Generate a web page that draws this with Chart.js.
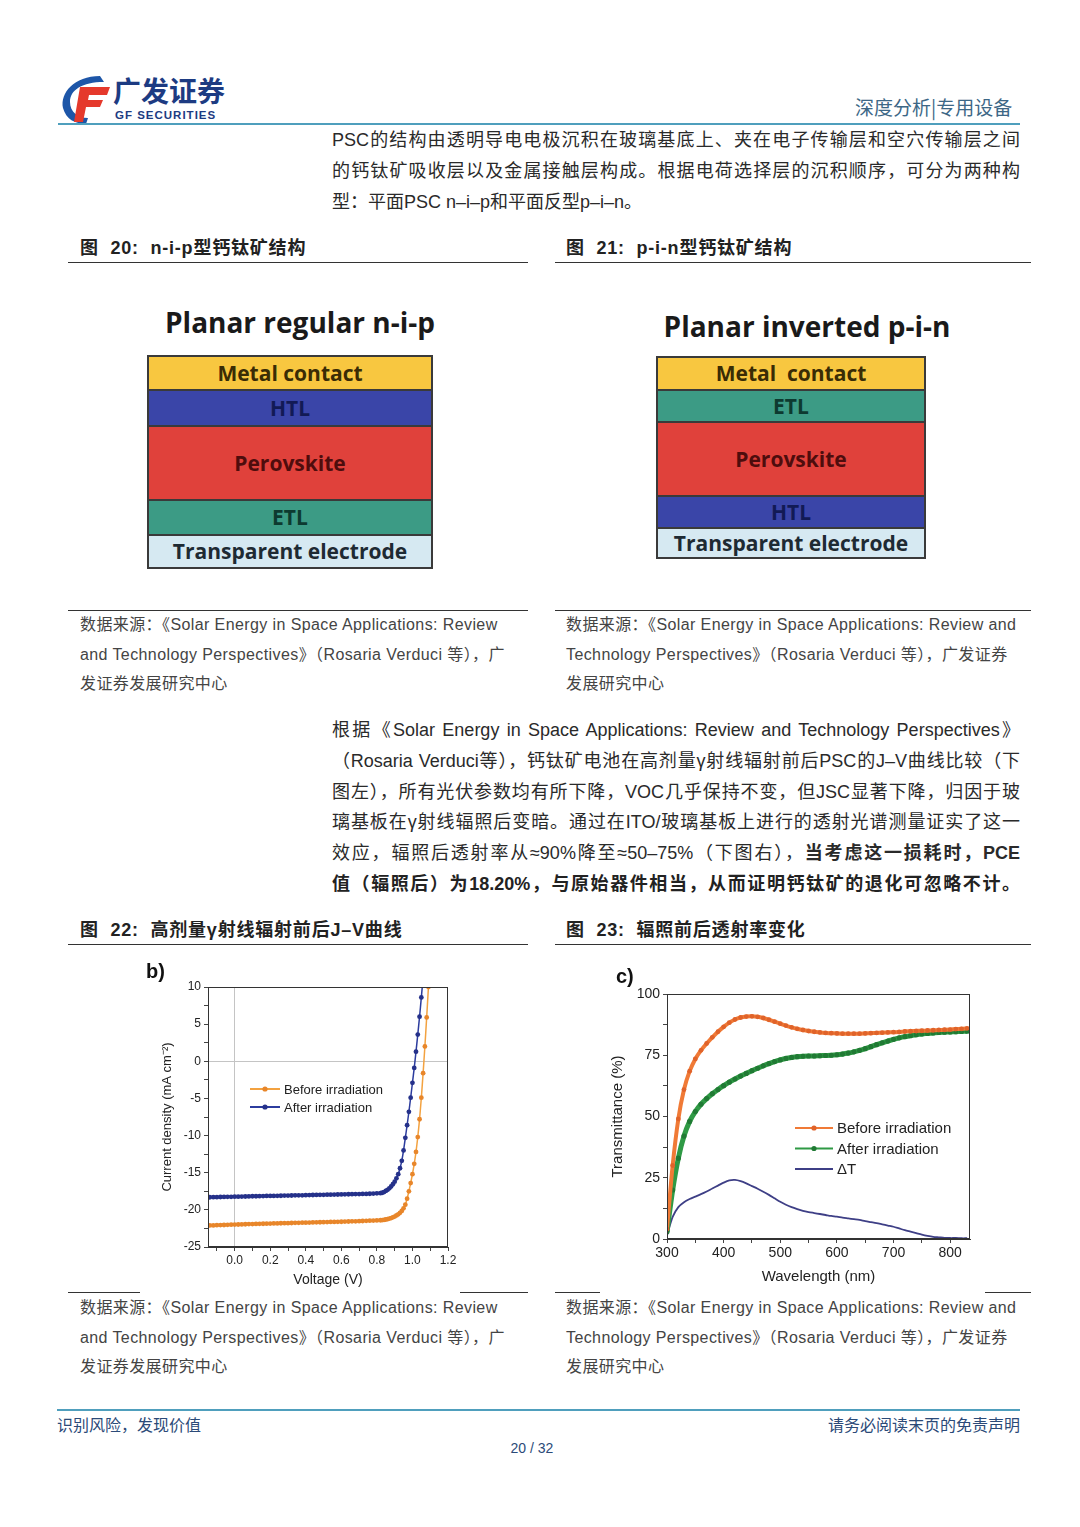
<!DOCTYPE html>
<html lang="zh-CN">
<head>
<meta charset="utf-8">
<title>广发证券 深度分析 p20</title>
<script src="https://cdn.jsdelivr.net/npm/chart.js@4.4.1/dist/chart.umd.min.js"></script>
<style>
  html, body { margin:0; padding:0; background:#fff; }
  #page { position:relative; width:1080px; height:1527px; overflow:hidden;
          font-family:"Liberation Sans Narrow","Liberation Sans","Noto Sans CJK SC",sans-serif; color:#2a2a2a; }
  .abs { position:absolute; }
  .txt { position:absolute; left:332px; width:688px; font-size:18px; line-height:24px; }
  .just { text-align:justify; text-align-last:justify; }
  .cap { position:absolute; font-size:18px; line-height:24px; color:#222; font-weight:bold; letter-spacing:0.8px;
         font-family:"Liberation Sans","Noto Sans CJK SC",sans-serif; }
  .src { position:absolute; font-size:16px; line-height:20px; color:#444; letter-spacing:0.4px; }
  .rule { position:absolute; height:1px; background:#333; }
  .blue-rule { position:absolute; height:2px; background:#4f9fbd; }
  .dtitle { position:absolute; font-family:"Open Sans","Liberation Sans",sans-serif; font-weight:700;
            font-size:28px; line-height:34px; color:#1a1a1a; text-align:center; }
  .stack { position:absolute; background:#3a3a3a; }
  .layer { position:absolute; left:2px; text-align:center; font-family:"Open Sans","Liberation Sans",sans-serif;
           font-weight:700; font-size:21px; }
  .chartbox { position:absolute; background:#fff; }
  .plabel { position:absolute; font-family:"Liberation Sans",sans-serif; font-weight:bold; font-size:20px; color:#111; }
</style>
</head>
<body>
<div id="page">

  <!-- header -->
  <svg class="abs" style="left:58px;top:74px" width="56" height="52" viewBox="0 0 56 52">
    <path d="M42 2 C 16 2, 2 19, 5 34 C 8 45, 17 50, 28 50 L 30 44 C 20 44, 12 38, 12 28 C 12 16, 24 8, 46 8 Z" fill="#1d56a8"/>
    <path d="M22 13 L52 13 L49 21 L31 21 L30 26 L45 26 L42 33 L28 33 L25 48 L16 48 Z" fill="#e5392c"/>
  </svg>
  <div class="abs" style="left:113px;top:74px;font-size:28px;line-height:32px;font-weight:bold;color:#1d3b82;font-family:'Noto Sans CJK SC',sans-serif">广发证券</div>
  <div class="abs" style="left:115px;top:109px;font-size:11.5px;line-height:13px;font-weight:bold;color:#1d3b82;letter-spacing:1px;font-family:'Liberation Sans Narrow','Liberation Sans',sans-serif">GF SECURITIES</div>
  <div class="abs" style="left:855px;top:95px;font-size:19px;line-height:24px;color:#3d6786;font-family:'Noto Sans CJK SC',sans-serif">深度分析|专用设备</div>
  <div class="blue-rule" style="left:58px;top:123px;width:962px"></div>

  <!-- paragraph 1 -->
  <div class="txt just" style="top:128px">PSC的结构由透明导电电极沉积在玻璃基底上、夹在电子传输层和空穴传输层之间</div>
  <div class="txt just" style="top:159px">的钙钛矿吸收层以及金属接触层构成。根据电荷选择层的沉积顺序，可分为两种构</div>
  <div class="txt" style="top:190px">型：平面PSC n–i–p和平面反型p–i–n。</div>

  <!-- figure 20 / 21 captions -->
  <div class="cap" style="left:80px;top:236px">图&nbsp; 20:&nbsp; n-i-p型钙钛矿结构</div>
  <div class="cap" style="left:566px;top:236px">图&nbsp; 21:&nbsp; p-i-n型钙钛矿结构</div>
  <div class="rule" style="left:68px;top:262px;width:460px"></div>
  <div class="rule" style="left:555px;top:262px;width:476px"></div>

  <!-- n-i-p stack -->
  <div class="dtitle" style="left:140px;top:305px;width:320px">Planar regular n-i-p</div>
  <div class="stack" style="left:147px;top:355px;width:286px;height:214px">
    <div class="layer" style="top:2px;width:282px;height:32px;line-height:32px;background:#f8c740;color:#3a2c05">Metal contact</div>
    <div class="layer" style="top:36px;width:282px;height:34px;line-height:34px;background:#3a45a8;color:#121a55">HTL</div>
    <div class="layer" style="top:72px;width:282px;height:72px;line-height:72px;background:#e0413b;color:#4e0d0d">Perovskite</div>
    <div class="layer" style="top:146px;width:282px;height:33px;line-height:33px;background:#3c9b85;color:#0d3a30">ETL</div>
    <div class="layer" style="top:181px;width:282px;height:31px;line-height:31px;background:#d6e9f2;color:#1e2a33">Transparent electrode</div>
  </div>

  <!-- p-i-n stack -->
  <div class="dtitle" style="left:647px;top:309px;width:320px">Planar inverted p-i-n</div>
  <div class="stack" style="left:656px;top:356px;width:270px;height:203px">
    <div class="layer" style="top:2px;width:266px;height:31px;line-height:31px;background:#f8c740;color:#3a2c05">Metal&nbsp; contact</div>
    <div class="layer" style="top:35px;width:266px;height:30px;line-height:30px;background:#3c9b85;color:#0d3a30">ETL</div>
    <div class="layer" style="top:67px;width:266px;height:72px;line-height:72px;background:#e0413b;color:#4e0d0d">Perovskite</div>
    <div class="layer" style="top:141px;width:266px;height:30px;line-height:30px;background:#3a45a8;color:#121a55">HTL</div>
    <div class="layer" style="top:173px;width:266px;height:28px;line-height:28px;background:#d6e9f2;color:#1e2a33">Transparent electrode</div>
  </div>

  <!-- sources fig 20/21 -->
  <div class="rule" style="left:68px;top:610px;width:460px"></div>
  <div class="rule" style="left:555px;top:610px;width:476px"></div>
  <div class="src" style="left:80px;top:615px">数据来源：《Solar Energy in Space Applications: Review</div>
  <div class="src" style="left:80px;top:645px">and Technology Perspectives》（Rosaria Verduci 等），广</div>
  <div class="src" style="left:80px;top:674px">发证券发展研究中心</div>
  <div class="src" style="left:566px;top:615px">数据来源：《Solar Energy in Space Applications: Review and</div>
  <div class="src" style="left:566px;top:645px">Technology Perspectives》（Rosaria Verduci 等），广发证券</div>
  <div class="src" style="left:566px;top:674px">发展研究中心</div>

  <!-- paragraph 2 -->
  <div class="txt just" style="top:718px">根据《Solar Energy in Space Applications: Review and Technology Perspectives》</div>
  <div class="txt just" style="top:749px">（Rosaria Verduci等），钙钛矿电池在高剂量γ射线辐射前后PSC的J–V曲线比较（下</div>
  <div class="txt just" style="top:780px">图左），所有光伏参数均有所下降，VOC几乎保持不变，但JSC显著下降，归因于玻</div>
  <div class="txt just" style="top:810px">璃基板在γ射线辐照后变暗。通过在ITO/玻璃基板上进行的透射光谱测量证实了这一</div>
  <div class="txt just" style="top:841px">效应，辐照后透射率从≈90%降至≈50–75%（下图右），<b>当考虑这一损耗时，PCE</b></div>
  <div class="txt just" style="top:872px;font-weight:bold;color:#222">值（辐照后）为18.20%，与原始器件相当，从而证明钙钛矿的退化可忽略不计。</div>

  <!-- figure 22 / 23 captions -->
  <div class="cap" style="left:80px;top:918px">图&nbsp; 22:&nbsp; 高剂量γ射线辐射前后J–V曲线</div>
  <div class="cap" style="left:566px;top:918px">图&nbsp; 23:&nbsp; 辐照前后透射率变化</div>
  <div class="rule" style="left:68px;top:944px;width:460px"></div>
  <div class="rule" style="left:555px;top:944px;width:476px"></div>

  <div class="chartbox" style="left:140px;top:960px;width:320px;height:335px"><canvas id="jvChart"></canvas></div>
  <div class="plabel" style="left:146px;top:960px">b)</div>
  <div class="chartbox" style="left:600px;top:960px;width:385px;height:330px"><canvas id="trChart"></canvas></div>
  <div class="plabel" style="left:616px;top:965px">c)</div>

  <!-- sources fig 22/23 -->
  <div class="rule" style="left:68px;top:1292px;width:72px"></div>
  <div class="rule" style="left:460px;top:1292px;width:68px"></div>
  <div class="rule" style="left:555px;top:1292px;width:45px"></div>
  <div class="rule" style="left:985px;top:1292px;width:46px"></div>
  <div class="src" style="left:80px;top:1298px">数据来源：《Solar Energy in Space Applications: Review</div>
  <div class="src" style="left:80px;top:1328px">and Technology Perspectives》（Rosaria Verduci 等），广</div>
  <div class="src" style="left:80px;top:1357px">发证券发展研究中心</div>
  <div class="src" style="left:566px;top:1298px">数据来源：《Solar Energy in Space Applications: Review and</div>
  <div class="src" style="left:566px;top:1328px">Technology Perspectives》（Rosaria Verduci 等），广发证券</div>
  <div class="src" style="left:566px;top:1357px">发展研究中心</div>

  <!-- footer -->
  <div class="blue-rule" style="left:57px;top:1409px;width:963px"></div>
  <div class="abs" style="left:57px;top:1414px;font-size:16px;line-height:20px;color:#2b4a78;font-family:'Noto Sans CJK SC',sans-serif">识别风险，发现价值</div>
  <div class="abs" style="left:820px;top:1414px;width:200px;text-align:right;font-size:16px;line-height:20px;color:#2b4a78;font-family:'Noto Sans CJK SC',sans-serif">请务必阅读末页的免责声明</div>
  <div class="abs" style="left:482px;top:1439px;width:100px;text-align:center;font-size:14px;line-height:18px;color:#2b4a78">20 / 32</div>
</div>

<script>
// ---- fig 22: J-V curves ----
const jvVoltage = [
  -0.14,-0.12,-0.10,-0.08,-0.06,-0.04,-0.02,0.00,0.02,0.04,
  0.06,0.08,0.10,0.12,0.14,0.16,0.18,0.20,0.22,0.24,
  0.26,0.28,0.30,0.32,0.34,0.36,0.38,0.40,0.42,0.44,
  0.46,0.48,0.50,0.52,0.54,0.56,0.58,0.60,0.62,0.64,
  0.66,0.68,0.70,0.72,0.74,0.76,0.78,0.80,0.82,
  0.83,0.84,0.85,0.86,0.87,0.88,0.89,0.90,0.91,0.92,
  0.93,0.94,0.95,0.96,0.97,0.98,0.99,1.00,1.01,1.02,
  1.03,1.04,1.05,1.06,1.07,1.08,1.09,1.10
];
const jvBefore = [
  -22.10,-22.09,-22.06,-22.05,-22.04,-22.02,-22.00,-21.98,-21.97,-21.96,
  -21.94,-21.92,-21.91,-21.90,-21.88,-21.87,-21.86,-21.85,-21.83,-21.82,
  -21.80,-21.79,-21.79,-21.77,-21.75,-21.74,-21.73,-21.72,-21.71,-21.69,
  -21.68,-21.67,-21.66,-21.65,-21.63,-21.62,-21.61,-21.60,-21.58,-21.57,
  -21.55,-21.54,-21.52,-21.50,-21.48,-21.46,-21.44,-21.42,-21.40,
  -21.38,-21.35,-21.30,-21.25,-21.18,-21.10,-21.00,-20.90,-20.75,-20.60,
  -20.40,-20.15,-19.80,-19.30,-18.50,-17.50,-16.40,-15.20,-13.80,-12.20,
  -10.20,-7.80,-4.90,-1.60,2.00,5.90,10.00,14.00
];
const jvAfter = [
  -18.30,-18.29,-18.29,-18.27,-18.26,-18.25,-18.25,-18.23,-18.22,-18.21,
  -18.20,-18.19,-18.17,-18.17,-18.16,-18.15,-18.13,-18.12,-18.12,-18.11,
  -18.10,-18.08,-18.08,-18.07,-18.05,-18.04,-18.04,-18.03,-18.01,-18.00,
  -17.99,-17.98,-17.98,-17.96,-17.95,-17.94,-17.93,-17.92,-17.91,-17.90,
  -17.89,-17.88,-17.87,-17.86,-17.85,-17.83,-17.81,-17.78,-17.75,
  -17.70,-17.60,-17.45,-17.30,-17.10,-16.85,-16.55,-16.20,-15.75,-15.20,
  -14.40,-13.40,-12.00,-10.30,-8.60,-6.80,-4.90,-2.90,-0.90,1.30,
  3.60,6.00,8.60,11.30,null,null,null,null
];
// tick positions (labelled every other one)
const jvXTicks = [-0.1,0.0,0.1,0.2,0.3,0.4,0.5,0.6,0.7,0.8,0.9,1.0,1.1,1.2];
const jvYTicks = [-25,-22.5,-20,-17.5,-15,-12.5,-10,-7.5,-5,-2.5,0,2.5,5,7.5,10];

// ---- fig 23: transmittance ----
const wavelength = [
  300,310,320,330,340,350,360,370,380,390,
  400,410,420,430,440,450,460,470,480,490,
  500,510,520,530,540,550,560,570,580,590,
  600,610,620,630,640,650,660,670,680,690,
  700,710,720,730,740,750,760,770,780,790,
  800,810,820,830
];
const transBefore = [
  4,30,49,61,68.5,73.5,77,79.8,82.3,84.6,
  86.6,88.3,89.6,90.4,90.8,90.9,90.7,90.2,89.5,88.7,
  87.9,87.1,86.4,85.8,85.3,84.9,84.6,84.3,84.1,84.0,
  83.9,83.8,83.8,83.8,83.8,83.9,84.0,84.1,84.2,84.3,
  84.4,84.5,84.7,84.8,84.9,85.0,85.1,85.2,85.3,85.4,
  85.5,85.7,85.8,86.0
];
const transAfter = [
  3,20,33,42,48,52,55,57.3,59.3,61,
  62.6,64,65.3,66.5,67.6,68.7,69.7,70.7,71.6,72.4,
  73.1,73.7,74.1,74.4,74.6,74.7,74.7,74.8,74.9,75.0,
  75.2,75.5,75.9,76.4,77.0,77.7,78.5,79.3,80.1,80.8,
  81.5,82.1,82.6,83.0,83.4,83.7,83.9,84.1,84.3,84.4,
  84.5,84.6,84.7,84.8
];
const transDelta = [
  1.5,9,13,15,16.3,17.3,18.3,19.4,20.6,21.8,
  23.0,23.9,24.1,23.6,22.7,21.6,20.5,19.3,18.0,16.6,
  15.2,14.0,13.0,12.2,11.5,11.0,10.6,10.2,9.8,9.4,
  9.1,8.7,8.4,8.1,7.8,7.3,6.9,6.5,6.0,5.5,
  5.0,4.3,3.6,3.0,2.4,1.8,1.3,0.9,0.7,0.5,
  0.4,0.4,0.3,0.3
];
const trXTicks = [300,350,400,450,500,550,600,650,700,750,800];
const trYTicks = [0,12.5,25,37.5,50,62.5,75,87.5,100];

const seriesNames = ['Before irradiation', 'After irradiation', '\u0394T'];

function pairs(xs, ys) { return xs.map((x, i) => ({ x: x, y: ys[i] })); }
function isMult(v, step) { const r = v / step; return Math.abs(r - Math.round(r)) < 1e-6; }
function fixedTicks(list) { return s => { s.ticks = list.map(v => ({ value: v })); }; }

// legend drawn inside the plot, like the Origin figure
const insideLegend = {
  id: 'insideLegend',
  afterDatasetsDraw(chart, args, o) {
    const { ctx, chartArea } = chart;
    ctx.save();
    ctx.font = o.font;
    ctx.textBaseline = 'middle';
    chart.data.datasets.forEach((ds, i) => {
      const x = chartArea.left + o.left;
      const y = chartArea.top + o.top + i * o.gap;
      ctx.strokeStyle = ds.borderColor;
      ctx.lineWidth = 2;
      ctx.beginPath(); ctx.moveTo(x, y); ctx.lineTo(x + o.len, y); ctx.stroke();
      if (ds.pointRadius > 0) {
        ctx.fillStyle = ds.pointBackgroundColor;
        ctx.beginPath(); ctx.arc(x + o.len / 2, y, 2.6, 0, Math.PI * 2); ctx.fill();
      }
      ctx.fillStyle = '#222';
      ctx.fillText(ds.label, x + o.len + 4, y + 1);
    });
    ctx.restore();
  }
};
const frameBox = {
  id: 'frameBox',
  afterDraw(chart) {
    const { ctx, chartArea: a } = chart;
    ctx.save();
    ctx.strokeStyle = '#333';
    ctx.lineWidth = 1;
    ctx.strokeRect(a.left + 0.5, a.top + 0.5, a.width - 1, a.height - 1);
    ctx.restore();
  }
};

Chart.defaults.font.family = '"Liberation Sans", Arial, sans-serif';
Chart.defaults.color = '#222';

const zeroGrid = c => (c.tick && Math.abs(c.tick.value) < 1e-9) ? '#c4c4c4' : 'rgba(0,0,0,0)';

// J-V chart
new Chart(document.getElementById('jvChart'), {
  type: 'line',
  data: {
    datasets: [
      { label: seriesNames[0], data: pairs(jvVoltage, jvBefore), borderColor: '#f3a240', backgroundColor: '#f3a240',
        pointBackgroundColor: '#e8862a', pointBorderWidth: 0, pointRadius: 2.4, borderWidth: 1.5, tension: 0.2 },
      { label: seriesNames[1], data: pairs(jvVoltage, jvAfter), borderColor: '#2c3c9e', backgroundColor: '#2c3c9e',
        pointBackgroundColor: '#25318a', pointBorderWidth: 0, pointRadius: 2.4, borderWidth: 1.5, tension: 0.2 }
    ]
  },
  options: {
    responsive: true, maintainAspectRatio: false, animation: false,
    layout: { padding: { top: 27, right: 12, left: 0, bottom: 0 } },
    plugins: {
      legend: { display: false }, tooltip: { enabled: false },
      insideLegend: { left: 42, top: 102, gap: 18, len: 30, font: '13px "Liberation Sans", Arial, sans-serif' }
    },
    scales: {
      x: {
        type: 'linear', min: -0.15, max: 1.2,
        afterBuildTicks: fixedTicks(jvXTicks),
        afterFit(s) { s.height = 48; },
        ticks: { autoSkip: false, maxRotation: 0, padding: 2, font: { size: 12 },
                 callback: v => (v > -1e-9 && isMult(v, 0.2)) ? v.toFixed(1) : '' },
        grid: { color: zeroGrid, tickColor: '#444', tickLength: 4 },
        border: { color: '#333' },
        title: { display: true, text: 'Voltage (V)', font: { size: 14 }, padding: { top: 0, bottom: 6 } }
      },
      y: {
        min: -25, max: 10,
        afterBuildTicks: fixedTicks(jvYTicks),
        afterFit(s) { s.width = 68; },
        ticks: { autoSkip: false, padding: 3, font: { size: 12 },
                 callback: v => isMult(v, 5) ? String(v) : '' },
        grid: { color: zeroGrid, tickColor: '#444', tickLength: 4 },
        border: { color: '#333' },
        title: { display: true, text: 'Current density (mA cm\u207B\u00B2)', font: { size: 13 }, padding: { top: 20, bottom: 0 } }
      }
    }
  },
  plugins: [insideLegend, frameBox]
});

// transmittance chart
new Chart(document.getElementById('trChart'), {
  type: 'line',
  data: {
    datasets: [
      { label: seriesNames[0], data: pairs(wavelength, transBefore), borderColor: '#f07a36', backgroundColor: '#f07a36',
        pointBackgroundColor: '#e0632a', pointBorderWidth: 0, pointRadius: 2.4, borderWidth: 4, tension: 0.3 },
      { label: seriesNames[1], data: pairs(wavelength, transAfter), borderColor: '#2f9a45', backgroundColor: '#2f9a45',
        pointBackgroundColor: '#207a34', pointBorderWidth: 0, pointRadius: 2.6, borderWidth: 5, tension: 0.3 },
      { label: seriesNames[2], data: pairs(wavelength, transDelta), borderColor: '#3e3f86', backgroundColor: '#3e3f86',
        pointRadius: 0, borderWidth: 1.8, tension: 0.3 }
    ]
  },
  options: {
    responsive: true, maintainAspectRatio: false, animation: false,
    layout: { padding: { top: 34, right: 15, left: 0, bottom: 0 } },
    plugins: {
      legend: { display: false }, tooltip: { enabled: false },
      insideLegend: { left: 128, top: 134, gap: 20.5, len: 38, font: '15px "Liberation Sans", Arial, sans-serif' }
    },
    scales: {
      x: {
        type: 'linear', min: 300, max: 835,
        afterBuildTicks: fixedTicks(trXTicks),
        afterFit(s) { s.height = 51; },
        ticks: { autoSkip: false, maxRotation: 0, padding: 2, font: { size: 14 },
                 callback: v => isMult(v, 100) ? String(v) : '' },
        grid: { drawOnChartArea: false, tickColor: '#444', tickLength: 4 },
        border: { color: '#333' },
        title: { display: true, text: 'Wavelength (nm)', font: { size: 15 }, padding: { top: 0, bottom: 4 } }
      },
      y: {
        min: 0, max: 100,
        afterBuildTicks: fixedTicks(trYTicks),
        afterFit(s) { s.width = 67; },
        ticks: { autoSkip: false, padding: 3, font: { size: 14 },
                 callback: v => isMult(v, 25) ? String(v) : '' },
        grid: { drawOnChartArea: false, tickColor: '#444', tickLength: 4 },
        border: { color: '#333' },
        title: { display: true, text: 'Transmittance (%)', font: { size: 15 }, padding: { top: 9, bottom: 0 } }
      }
    }
  },
  plugins: [insideLegend, frameBox]
});
</script>
</body>
</html>
